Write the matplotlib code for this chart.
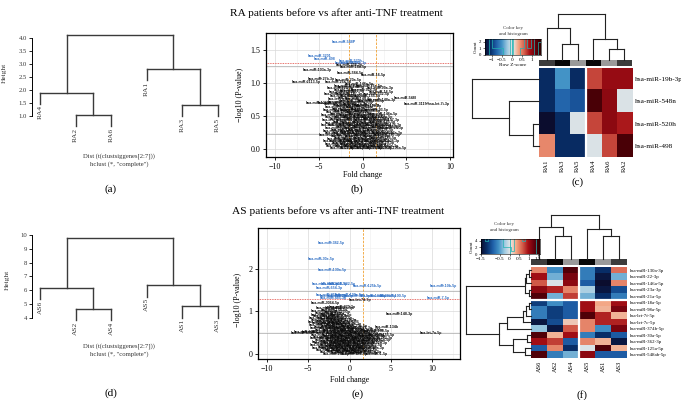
import numpy as np
import matplotlib
matplotlib.use("Agg")
import matplotlib.pyplot as plt
from matplotlib.colors import LinearSegmentedColormap

# ---------------- data ----------------
a_leaves = ["RA4", "RA2", "RA6", "RA1", "RA3", "RA5"]
a_tree = (4.13, (1.90, 0, (1.04, 1, 2)), (2.80, 3, (1.41, 4, 5)))
a_yticks = [1.0, 1.5, 2.0, 2.5, 3.0, 3.5, 4.0]

d_leaves = ["AS6", "AS2", "AS4", "AS5", "AS1", "AS3"]
d_tree = (9.78, (6.19, 0, (4.67, 1, 2)), (6.40, 3, (4.88, 4, 5)))
d_yticks = [4, 5, 6, 7, 8, 9, 10]

c_cols = ["RA1", "RA3", "RA5", "RA4", "RA6", "RA2"]
c_rows = ["hsa-miR-19b-3p", "hsa-miR-548n", "hsa-miR-520h", "hsa-miR-498"]
c_z = [[-1.1, -0.5, -1.1, 0.7, 0.95, 0.95],
       [-1.1, -0.75, -0.85, 1.3, 1.0, 0.0],
       [-1.4, -1.1, 0.0, 0.7, 1.0, 0.85],
       [0.45, -1.1, -1.1, 0.0, 0.7, 1.3]]
c_side = ["#3c3c3c", "#080808", "#9a9a9a", "#080808", "#9a9a9a", "#3c3c3c"]
c_col_tree = (1.0, (0.69, 0, (0.35, 1, 2)), (0.45, 3, (0.25, 4, 5)))
c_row_tree = (1.0, 0, (0.45, 1, (0.09, 2, 3)))

f_cols = ["AS6", "AS2", "AS4", "AS5", "AS1", "AS3"]
f_rows = ["hsa-miR-130a-3p", "hsa-miR-22-3p", "hsa-miR-146a-5p", "hsa-miR-23a-3p",
          "hsa-miR-21a-5p", "hsa-miR-18a-5p", "hsa-miR-98a-5p", "hsa-let-7f-5p",
          "hsa-let-7c-5p", "hsa-miR-374b-5p", "hsa-miR-30a-5p", "hsa-miR-362-3p",
          "hsa-miR-125a-5p", "hsa-miR-548ab-5p"]
f_z = [[0.5, -0.6, 1.4, -0.7, -1.2, 0.6],
       [1.0, -0.4, 1.2, -0.7, -1.4, -0.4],
       [0.7, 0.0, 1.1, -0.9, -1.5, 0.5],
       [1.1, 0.9, 0.5, -0.2, -1.4, -1.0],
       [1.4, -0.4, 0.8, -0.4, -1.2, -0.7],
       [-1.1, -0.6, -0.9, 1.0, 0.35, 1.0],
       [-0.7, -1.1, -0.9, 1.0, 0.3, 1.2],
       [-0.7, -1.1, -0.9, 1.4, 0.9, 0.3],
       [-1.4, -1.0, 0.2, 0.5, 0.9, 0.9],
       [-0.3, -1.4, 0.7, 0.5, -0.6, 1.2],
       [1.4, 0.3, 1.0, -0.7, -1.2, -0.9],
       [1.0, 0.8, -0.9, 0.5, 0.3, -1.4],
       [-0.9, 0.5, -1.2, 0.0, 1.4, 0.3],
       [1.4, -0.7, -0.4, 1.1, -0.9, -0.9]]
f_side = ["#3c3c3c", "#080808", "#9a9a9a", "#080808", "#9a9a9a", "#3c3c3c"]
f_col_tree = (1.0, (0.73, 0, (0.52, 1, 2)), (0.68, 3, (0.52, 4, 5)))
f_row_tree = (1.0, (0.10, (0.07, (0.025, 0, 1), 2), (0.03, 3, 4)),
              (0.49, (0.37, (0.12, (0.08, (0.03, 5, 6), 7), 8), 9),
               (0.28, (0.06, 10, 11), (0.09, 12, 13))))

mirna_pool = ["hsa-miR-21-5p", "hsa-miR-16-5p", "hsa-let-7a-5p", "hsa-miR-92a-3p",
              "hsa-miR-223-3p", "hsa-miR-142-3p", "hsa-miR-150-5p", "hsa-miR-26a-5p",
              "hsa-miR-146a-5p", "hsa-miR-191-5p", "hsa-miR-103a-3p", "hsa-miR-451a",
              "hsa-miR-486-5p", "hsa-miR-15a-5p", "hsa-miR-30d-5p", "hsa-miR-181a-5p",
              "hsa-miR-25-3p", "hsa-miR-93-5p", "hsa-miR-106b-5p", "hsa-miR-17-5p",
              "hsa-miR-20a-5p", "hsa-miR-128-3p", "hsa-miR-342-3p", "hsa-miR-126-3p",
              "hsa-miR-24-3p", "hsa-miR-27a-3p", "hsa-miR-29a-3p", "hsa-miR-320a",
              "hsa-miR-425-5p", "hsa-miR-185-5p", "hsa-let-7g-5p", "hsa-let-7b-5p",
              "hsa-miR-144-3p", "hsa-miR-140-3p", "hsa-miR-221-3p", "hsa-miR-155-5p",
              "hsa-miR-197-3p", "hsa-miR-532-5p", "hsa-miR-363-3p", "hsa-miR-574-3p"]

# volcano (b): labelled outliers
b_out_fc = [-2.1, -4.9, -4.3, -1.4, -1.1, -1.8, -1.5, -1.0, -5.2, -1.35, 1.2, -4.7,
            -1.6, -6.4, -2.8, 2.0, 4.9, 7.3, -5.0, -3.7, 2.1, 3.4]
b_out_lp = [1.63, 1.41, 1.37, 1.33, 1.31, 1.30, 1.27, 1.25, 1.20, 1.15, 1.12, 1.07,
            1.05, 1.02, 1.02, 0.93, 0.77, 0.69, 0.70, 0.70, 0.74, 0.01]
b_out_names = ["hsa-miR-548P", "hsa-miR-3201", "hsa-miR-498", "hsa-miR-520h",
               "hsa-miR-19b-3p", "hsa-miR-548n", "hsa-miR-338-3p", "hsa-miR-18a-5p",
               "hsa-miR-103a-3p", "hsa-miR-584-5p", "hsa-miR-16-5p", "hsa-miR-27b-3p",
               "hsa-miR-20a-5p", "hsa-miR-2113-5p", "hsa-miR-26a-5p", "hsa-miR-99a-3p",
               "hsa-miR-548l", "hsa-miR-3115/hsa-let-7i-3p", "hsa-miR-1260b",
               "hsa-miR-4454", "hsa-miR-148a-3p", "hsa-miR-106a-5p"]
# volcano (b): dense cloud
b_fc = [-2.3, -1.2, -0.2, 0.8, 1.9,
        -2.7, -1.6, -0.6, 0.5, 1.5, 2.5,
        -2.9, -2.0, -1.0, 0.1, 1.1, 2.2,
        -3.1, -2.2, -1.3, -0.3, 0.7, 1.7, 2.7,
        -2.6, -1.7, -0.7, 0.3, 1.3, 2.4,
        -3.7, -2.4, -1.5, -0.5, 0.6, 1.6, 2.8,
        -2.8, -1.9, -0.9, 0.2, 1.2, 2.3, 3.1,
        -3.0, -2.1, -1.1, -0.1, 0.9, 2.0,
        -2.7, -1.6, -0.6, 0.4, 1.5, 2.6, 3.3,
        -3.3, -2.3, -1.3, -0.2, 0.8, 1.8, 2.9,
        -2.9, -1.9, -0.8, 0.2, 1.3, 2.3,
        -3.4, -2.5, -1.5, -0.4, 0.6, 1.6, 2.7,
        -2.8, -1.8, -0.7, 0.3, 1.2, 2.2,
        -3.2, -2.2, -1.2, -0.1, 0.9, 2.4,
        -2.7, -1.6, -0.5, 0.5,
        -3.0, -2.0, -0.9, 0.1, 1.6,
        -2.6, -1.5, -0.4, 0.7,
        -2.9, -1.9, -0.8, 0.4,
        -2.4, -1.2, -0.2, 1.0,
        -2.7, -1.6, -0.5,
        -2.2, -1.0, 0.6,
        -1.5, 1.6, -2.9,
        -2.3, -1.2, 2.1,
        -2.0, 0.2,
        -2.6, -1.3,
        -1.7, 0.8, -0.4]
b_lp = [0.01, 0.02, 0.01, 0.02, 0.01,
        0.04, 0.05, 0.04, 0.05, 0.04, 0.05,
        0.08, 0.09, 0.08, 0.09, 0.08, 0.09,
        0.12, 0.13, 0.12, 0.13, 0.12, 0.13, 0.12,
        0.16, 0.17, 0.16, 0.17, 0.16, 0.17,
        0.21, 0.20, 0.21, 0.20, 0.21, 0.20, 0.21,
        0.24, 0.25, 0.24, 0.25, 0.24, 0.25, 0.24,
        0.28, 0.29, 0.28, 0.29, 0.28, 0.29,
        0.32, 0.33, 0.32, 0.33, 0.32, 0.33, 0.32,
        0.36, 0.37, 0.36, 0.37, 0.36, 0.37, 0.36,
        0.40, 0.41, 0.40, 0.41, 0.40, 0.41,
        0.44, 0.45, 0.44, 0.45, 0.44, 0.45, 0.44,
        0.48, 0.49, 0.48, 0.49, 0.48, 0.49,
        0.52, 0.53, 0.52, 0.53, 0.52, 0.53,
        0.56, 0.57, 0.56, 0.57,
        0.60, 0.61, 0.60, 0.61, 0.60,
        0.64, 0.65, 0.64, 0.65,
        0.68, 0.67, 0.68, 0.67,
        0.72, 0.73, 0.72, 0.73,
        0.76, 0.77, 0.76,
        0.80, 0.81, 0.80,
        0.83, 0.83, 0.84,
        0.87, 0.88, 0.87,
        0.89, 0.90,
        0.93, 0.94,
        0.96, 0.96, 0.98]

# volcano (e): labelled outliers
e_out_fc = [-2.16, -3.37, -2.08, -2.9, -1.9, -0.9, 2.2, 11.38, -2.4, -2.4, 0.0, -2.0,
            -1.1, 0.9, 2.9, 4.1, 5.3, -1.95, 10.8, 1.28, -2.96, -0.9, 6.1, 4.5, 9.9,
            -5.7, -4.3, -5.3, 3.2]
e_out_lp = [2.63, 2.24, 1.98, 1.64, 1.64, 1.64, 1.61, 1.61, 1.55, 1.40, 1.40, 1.37,
            1.37, 1.37, 1.37, 1.37, 1.37, 1.32, 1.32, 1.27, 1.19, 1.11, 0.95, 0.63, 0.48,
            0.48, 0.50, 0.52, 0.0]
e_out_names = ["hsa-miR-382-5p", "hsa-miR-30e-5p", "hsa-miR-130a-5p", "hsa-miR-409-3p",
               "hsa-miR-411-5p", "hsa-miR-432-5p", "hsa-miR-125b-5p", "hsa-miR-10b-5p",
               "hsa-miR-654-3p", "hsa-miR-758-3p", "hsa-miR-199a-5p", "hsa-miR-127-3p",
               "hsa-miR-27a-5p", "hsa-miR-379-5p", "hsa-miR-134-5p", "hsa-miR-99b-5p",
               "hsa-miR-100-5p", "hsa-miR-485-3p", "hsa-miR-7-5p", "hsa-let-7d-5p",
               "hsa-miR-3064-5p", "hsa-miR-370-3p", "hsa-miR-148-3p", "hsa-miR-134b",
               "hsa-let-7a-5p", "hsa-miR-4508", "hsa-miR-1246", "hsa-miR-6087",
               "hsa-miR-1-5p"]
# volcano (e): dense cloud
e_fc = [-1.6, -0.5, 0.6, 1.7,
        -2.2, -1.1, 0.0, 1.1, 2.2,
        -2.6, -1.5, -0.4, 0.7, 1.8,
        -2.9, -1.8, -0.7, 0.4, 1.5, 2.6,
        -2.4, -1.3, -0.2, 0.9, 2.0,
        -3.2, -2.0, -0.9, 0.2, 1.3, 2.4,
        -2.7, -1.6, -0.5, 0.6, 1.7, 3.0,
        -3.0, -1.9, -0.8, 0.3, 1.4, 2.5,
        -2.5, -1.4, -0.3, 0.8, 1.9, 3.3,
        -3.3, -2.2, -1.1, 0.0, 1.1, 2.2, 3.6,
        -2.8, -1.7, -0.6, 0.5, 1.6, 2.8,
        -3.1, -2.0, -0.9, 0.2, 1.3, 2.6, 3.9,
        -2.4, -1.3, -0.2, 0.9, 2.0,
        -3.0, -1.9, -0.7, 0.4, 1.6, 3.2,
        -2.6, -1.5, -0.4, 0.7, 2.7,
        -3.2, -2.1, -1.0, 0.1, 1.3,
        -2.8, -1.7, -0.6, 0.6,
        -3.3, -2.3, -1.2, 0.0,
        -2.9, -1.8, -0.7,
        -3.4, -2.4, -1.3, -0.2,
        -3.0, -1.9, -0.8,
        -3.3, -2.3, -1.2,
        -2.8, -1.7,
        -3.2, -2.1, -1.0,
        -2.6, -1.5,
        -3.0, -1.9,
        -2.5, -1.2]
e_lp = [0.00, 0.01, 0.00, 0.01,
        0.04, 0.05, 0.04, 0.05, 0.04,
        0.08, 0.09, 0.08, 0.09, 0.08,
        0.12, 0.13, 0.12, 0.13, 0.12, 0.13,
        0.16, 0.17, 0.16, 0.17, 0.16,
        0.20, 0.21, 0.20, 0.21, 0.20, 0.21,
        0.24, 0.25, 0.24, 0.25, 0.24, 0.25,
        0.28, 0.29, 0.28, 0.29, 0.28, 0.29,
        0.32, 0.33, 0.32, 0.33, 0.32, 0.33,
        0.36, 0.37, 0.36, 0.37, 0.36, 0.37, 0.36,
        0.40, 0.41, 0.40, 0.41, 0.40, 0.41,
        0.44, 0.45, 0.44, 0.45, 0.44, 0.45, 0.44,
        0.48, 0.49, 0.48, 0.49, 0.48,
        0.52, 0.53, 0.52, 0.53, 0.52, 0.53,
        0.56, 0.57, 0.56, 0.57, 0.56,
        0.60, 0.61, 0.60, 0.61, 0.60,
        0.64, 0.65, 0.64, 0.65,
        0.68, 0.69, 0.68, 0.69,
        0.72, 0.73, 0.72,
        0.76, 0.77, 0.76, 0.77,
        0.80, 0.81, 0.80,
        0.84, 0.85, 0.84,
        0.88, 0.89,
        0.92, 0.93, 0.92,
        0.97, 0.98,
        1.02, 1.03,
        1.08, 1.07]

# ---------------- figure helpers ----------------
W, H = 681, 400
plt.rcParams['font.family'] = ["Liberation Serif", "DejaVu Serif"]
plt.rcParams['axes.unicode_minus'] = True
fig = plt.figure(figsize=(6.81, 4.0), dpi=100)
fig.patch.set_facecolor("white")

cmap = LinearSegmentedColormap.from_list(
    "hm", ["#0b0d2e", "#08306b", "#1f5fa8", "#4292c6", "#9ecae1", "#e8e8e8",
           "#f4a582", "#d6604d", "#a50f15", "#67000d", "#2b0000"])


def add_ax(x0, y0, x1, y1):
    return fig.add_axes([x0 / W, 1 - y1 / H, (x1 - x0) / W, (y1 - y0) / H])


def ftext(x, y, s, **kw):
    kw.setdefault("ha", "center")
    kw.setdefault("va", "center")
    fig.text(x / W, 1 - y / H, s, **kw)


def tree_segments(node, hang=None):
    segs, ends = [], {}

    def rec(n):
        if isinstance(n, int):
            return float(n), None
        h, l, r = n
        xs = []
        for c in (l, r):
            cx, ch = rec(c)
            if ch is None:
                ch = h - hang if hang is not None else 0.0
                ends[c] = ch
            segs.append(((cx, ch), (cx, h)))
            xs.append(cx)
        segs.append(((xs[0], h), (xs[1], h)))
        return (xs[0] + xs[1]) / 2, h

    rec(node)
    return segs, ends


def r_dendro(box, leaves, tree, hang, ylim, yticks, labels, ylab_xy, xlab_y, letter_y, letter):
    ax = add_ax(*box)
    segs, ends = tree_segments(tree, hang)
    for (x0, y0), (x1, y1) in segs:
        ax.plot([x0, x1], [y0, y1], color="#3a3a3a", lw=1.0, solid_capstyle="projecting")
    span = ylim[1] - ylim[0]
    for i, name in enumerate(leaves):
        ax.text(i, ends[i] - 0.015 * span, name, rotation=90, ha="center", va="top",
                fontsize=5.3, color="#333333")
    ax.set_xlim(-0.225, 5.35)
    ax.set_ylim(*ylim)
    ax.set_yticks(yticks)
    ax.set_yticklabels(labels, fontsize=4.8, color="#333333")
    ax.set_xticks([])
    for k in ("top", "right", "bottom"):
        ax.spines[k].set_visible(False)
    ax.spines["left"].set_bounds(yticks[0], yticks[-1])
    ax.spines["left"].set_linewidth(0.7)
    ax.tick_params(axis="y", length=2, width=0.6, pad=1.5)
    ax.patch.set_alpha(0)
    ftext(ylab_xy[0], ylab_xy[1], "Height", rotation=90, fontsize=5.3, color="#333333")
    ftext(119, xlab_y, "Dist (t(clustsiggenes[2:7]))", fontsize=4.8, color="#333333")
    ftext(119, xlab_y + 8, 'hclust (*, "complete")', fontsize=4.8, color="#333333")
    ftext(111, letter_y, letter, fontsize=8)


def volcano(box, xlim, ylim, xticks, xminor, yticks, yminor, ylabels, vlines, grey_h,
            fcs, lps, names, title, title_xy, ylab_xy, xlab_xy, letter_xy, letter):
    ax = add_ax(*box)
    ax.set_xlim(*xlim)
    ax.set_ylim(*ylim)
    ax.set_xticks(xticks)
    ax.set_xticks(xminor, minor=True)
    ax.set_yticks(yticks)
    ax.set_yticklabels(ylabels)
    ax.set_yticks(yminor, minor=True)
    ax.grid(which="major", color="#d9d9d9", lw=0.5)
    ax.grid(which="minor", color="#eeeeee", lw=0.4)
    ax.set_axisbelow(True)
    ax.tick_params(which="minor", length=0)
    ax.tick_params(which="major", length=2.5, width=0.6, labelsize=5.8, pad=1.5)
    for s in ax.spines.values():
        s.set_linewidth(0.9)
    for v in vlines:
        ax.axvline(v, color="#f0a030", lw=0.6, ls=(0, (3, 1.5)))
    ax.axhline(1.3, color="#e0453c", lw=0.6, ls=(0, (1, 1)))
    for g in grey_h:
        ax.axhline(g, color="#a8a8a8", lw=0.5)
    ax.scatter(fcs, lps, s=0.4, c=["#2f6fc4" if y >= 1.3 else "#222222" for y in lps],
               lw=0, zorder=2)
    for x, y, n in zip(fcs, lps, names):
        col = "#2f6fc4" if y >= 1.3 else "#0a0a0a"
        ax.text(x, y, n, fontsize=2.6, color=col, ha="center", va="center",
                family="Liberation Sans", fontweight="bold", clip_on=True, zorder=3)
    ftext(title_xy[0], title_xy[1], title, fontsize=8.2)
    ftext(ylab_xy[0], ylab_xy[1], "\u2212log10 (P-value)", rotation=90, fontsize=5.8)
    ftext(xlab_xy[0], xlab_xy[1], "Fold change", fontsize=5.8)
    ftext(letter_xy[0], letter_xy[1], letter, fontsize=8)


def heat_panel(hbox, cols, rows, z, vmin, vmax, side, side_box, col_tree, top_box,
               row_tree, left_box, row_gap, row_fs, col_fs, key_box, key_ticks,
               key_yticks, key_ymax, key_xlabel, key_title_xy, letter_xy, letter):
    z = np.array(z)
    nr, nc = z.shape
    ax = add_ax(*hbox)
    ax.imshow(z, cmap=cmap, vmin=vmin, vmax=vmax, aspect="auto", interpolation="nearest",
              extent=(-0.5, nc - 0.5, nr - 0.5, -0.5))
    ax.axvline(2.5, color="white", lw=1.6)
    if row_gap is not None:
        ax.axhline(row_gap, color="white", lw=1.6)
    for s in ax.spines.values():
        s.set_visible(False)
    ax.yaxis.tick_right()
    ax.set_yticks(range(nr))
    ax.set_yticklabels(rows, fontsize=row_fs)
    ax.set_xticks(range(nc))
    ax.set_xticklabels(cols, fontsize=col_fs, rotation=90)
    ax.tick_params(length=0, pad=2)
    # side colour bar
    sx = add_ax(*side_box)
    for i, colr in enumerate(side):
        sx.axvspan(i - 0.5, i + 0.5, color=colr, lw=0)
    sx.set_xlim(-0.5, nc - 0.5)
    sx.axis("off")
    # top dendrogram
    tx = add_ax(*top_box)
    segs, _ = tree_segments(col_tree)
    for (x0, y0), (x1, y1) in segs:
        tx.plot([x0, x1], [y0, y1], color="#222222", lw=0.8, clip_on=False)
    tx.set_xlim(-0.5, nc - 0.5)
    tx.set_ylim(0, 1.0)
    tx.axis("off")
    # left dendrogram
    lx = add_ax(*left_box)
    segs, _ = tree_segments(row_tree)
    for (x0, y0), (x1, y1) in segs:
        lx.plot([y0, y1], [x0, x1], color="#222222", lw=0.8, clip_on=False)
    lx.set_xlim(1.0, 0.0)
    lx.set_ylim(nr - 0.5, -0.5)
    lx.axis("off")
    # colour key
    kx = add_ax(*key_box)
    grad = np.linspace(vmin, vmax, 256)[None, :]
    kx.imshow(grad, cmap=cmap, vmin=vmin, vmax=vmax, aspect="auto",
              extent=(vmin, vmax, 0, key_ymax))
    counts, edges = np.histogram(z.ravel(), bins=16, range=(vmin, vmax))
    kx.step(edges, np.append(counts, counts[-1]), where="post", color="#22b3b3", lw=0.5)
    kx.axvline(0, color="#22b3b3", lw=0.6)
    kx.set_xlim(vmin, vmax)
    kx.set_ylim(0, key_ymax)
    kx.set_xticks(key_ticks)
    kx.set_xticklabels([("\u2212" if t < 0 else "") + ("%g" % abs(t)) for t in key_ticks],
                       fontsize=3.8)
    kx.set_yticks(key_yticks)
    kx.set_yticklabels([str(t) for t in key_yticks], fontsize=3.5)
    kx.tick_params(length=1.5, width=0.4, pad=1)
    kx.set_ylabel("Count", fontsize=3.6, labelpad=1)
    for s in kx.spines.values():
        s.set_linewidth(0.4)
    if key_xlabel:
        kx.set_xlabel(key_xlabel, fontsize=3.8, labelpad=0.5)
    ftext(key_title_xy[0], key_title_xy[1], "Color key", fontsize=3.6, color="#333333")
    ftext(key_title_xy[0], key_title_xy[1] + 5.5, "and histogram", fontsize=3.6,
          color="#333333")
    ftext(letter_xy[0], letter_xy[1], letter, fontsize=8)


# ---------------- panels ----------------
r_dendro((32, 30.2, 230, 142), a_leaves, a_tree, 0.42, (0.0, 4.3), a_yticks,
         ["%.1f" % t for t in a_yticks], (4, 73), 156, 189, "(a)")
r_dendro((32, 226.7, 230, 338.7), d_leaves, d_tree, 0.85, (2.5, 10.6), d_yticks,
         [str(t) for t in d_yticks], (7, 280), 346, 393, "(d)")

volcano((266, 33, 453, 157), (-11.03, 10.34), (-0.12, 1.76),
        [-10, -5, 0, 5, 10], [-7.5, -2.5, 2.5, 7.5], [0.0, 0.5, 1.0, 1.5],
        [0.25, 0.75, 1.25], ["0.0", "0.5", "1.0", "1.5"], [-1.585, 1.585], [1.26, 0.23],
        b_out_fc + b_fc, b_out_lp + b_lp,
        b_out_names + [mirna_pool[i % len(mirna_pool)] for i in range(len(b_fc))],
        "RA patients before vs after anti-TNF treatment", (336, 13), (240, 95),
        (363, 175), (357, 189), "(b)")

volcano((258, 228, 460, 359), (-11.1, 13.4), (-0.13, 2.98),
        [-10, -5, 0, 5, 10], [-7.5, -2.5, 2.5, 7.5, 12.5], [0, 1, 2],
        [0.5, 1.5, 2.5], ["0", "1", "2"], [1.585], [1.48, 0.48],
        e_out_fc + e_fc, e_out_lp + e_lp,
        e_out_names + [mirna_pool[(i + 7) % len(mirna_pool)] for i in range(len(e_fc))],
        "AS patients before vs after anti-TNF treatment", (338, 211), (238, 300),
        (350, 380), (358, 394), "(e)")

heat_panel((539, 68, 632, 157), c_cols, c_rows, c_z, -1.35, 1.45, c_side,
           (539, 60, 632, 66), c_col_tree, (539, 14, 632, 60), c_row_tree,
           (472, 68, 539, 157), None, 5.2, 4.8, (485, 39, 541, 55),
           [-1, -0.5, 0, 0.5, 1], [0, 1, 2], 2.4, "Row Z-score", (513, 28),
           (578, 182), "(c)")

heat_panel((531, 267, 627, 358), f_cols, f_rows, f_z, -1.5, 1.6, f_side,
           (531, 259, 627, 265), f_col_tree, (531, 215, 627, 259), f_row_tree,
           (466, 267, 531, 358), 4.5, 3.5, 4.6, (481, 239, 540, 254),
           [-1.5, -0.5, 0, 0.5, 1, 1.5], [0, 2, 4], 4.5, None, (504, 224),
           (582, 395), "(f)")

fig.savefig("out.png", dpi=100, facecolor="white")
